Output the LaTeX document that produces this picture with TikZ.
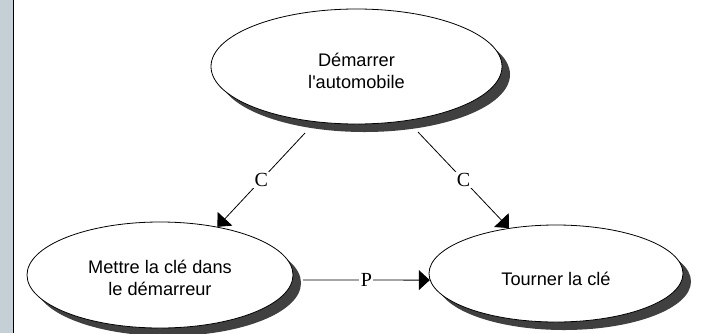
\documentclass[tikz,border=0pt]{standalone}
\usepackage{fontspec}
\setmainfont{Liberation Sans}
% plain family: keeps the straight apostrophe
\newfontfamily\taskfont{Liberation Sans}
\newfontfamily\tagfont{Liberation Serif}
\usetikzlibrary{arrows.meta,shapes.geometric,calc}
\definecolor{stripgray}{RGB}{197,208,214}
\definecolor{shadowgray}{RGB}{64,64,64}
\begin{document}
\begin{tikzpicture}[x=1pt,y=-1pt,
  task/.style={ellipse, draw=black, line width=0.8pt, fill=white, inner sep=0pt},
  tasktext/.style={inner sep=0pt, align=center, font=\taskfont\fontsize{18.2}{21.5}\selectfont},
  taskshadow/.style={ellipse, fill=shadowgray, inner sep=0pt},
  link/.style={draw=black, line width=0.8pt, -{Triangle[length=11pt,width=20pt]}},
  tag/.style={fill=white, inner sep=1.5pt, font=\tagfont\fontsize{20}{22}\selectfont}]
\useasboundingbox (0,0) rectangle (703,333);

% left margin strip
\fill[stripgray] (0,0) rectangle (13,333);
\draw[line width=1.3pt] (13.5,0) -- (13.5,333);

% drop shadows
\node[taskshadow, minimum width=291pt, minimum height=115pt] (topshadow) at (364.5,74.5) {};
\node[taskshadow, minimum width=266pt, minimum height=106pt] (leftshadow) at (168,283) {};
\node[taskshadow, minimum width=254pt, minimum height=97pt] (rightshadow) at (564,281.5) {};

% tasks
\node[task, minimum width=291pt, minimum height=115pt] (top) at (356.5,66.5) {};
\node[task, minimum width=266pt, minimum height=106pt] (left) at (160,275) {};
\node[task, minimum width=254pt, minimum height=97pt] (right) at (556,273.5) {};

% task captions
\node[tasktext] (toptext) at ($(top)+(0,4.5)$) {Démarrer\\l'automobile};
\node[tasktext] (lefttext) at ($(left)+(0,3)$) {Mettre la clé dans\\le démarreur};
\node[tasktext] (righttext) at ($(right)+(0,5)$) {Tourner la clé};

% connector starts
\coordinate (s1) at (305,133);
\coordinate (s2) at (418,132);
\coordinate (s3) at (303,280);

% connectors
\draw[link] (s1) -- node[tag] (c1) {C} (left.40.1);
\draw[link] (s2) -- node[tag] (c2) {C} (right.136.6);
\draw[link] (s3) -- node[tag] (p1) {P} (right.183.9);
\end{tikzpicture}
\end{document}
